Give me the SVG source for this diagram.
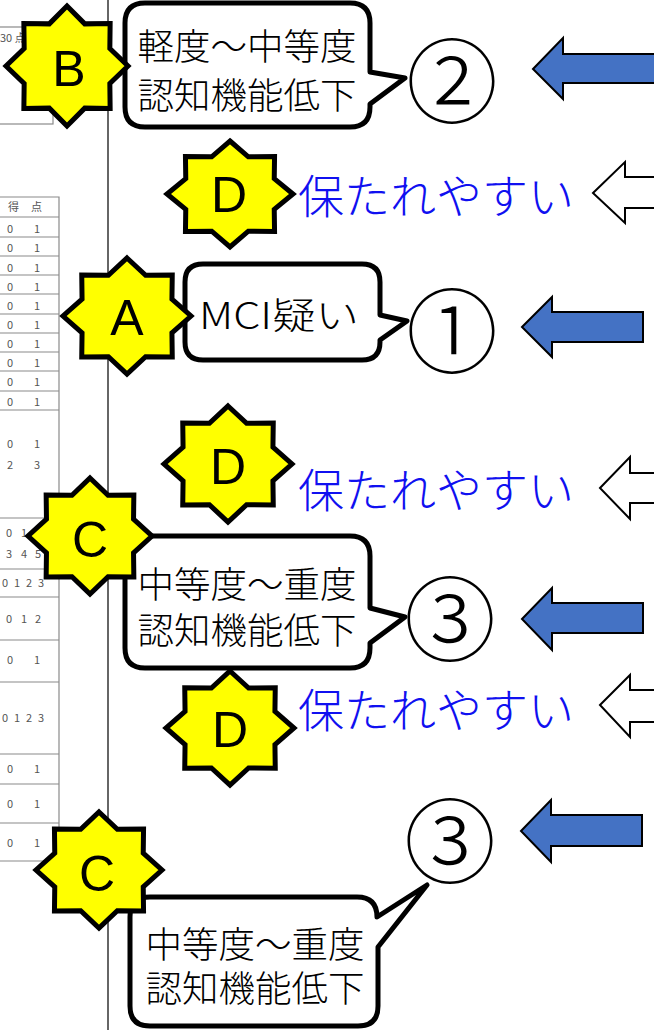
<svg xmlns="http://www.w3.org/2000/svg" xmlns:xlink="http://www.w3.org/1999/xlink" width="654" height="1030" viewBox="0 0 654 1030">
<style>
.bg{fill:#fff}
.tbl{fill:none;stroke:#8a8a8a;stroke-width:1.2}
.tt{font-family:"Noto Sans CJK JP","Noto Sans",sans-serif;font-size:11px;fill:#555}
.page{stroke:#333;stroke-width:1.5}
.star{fill:#ffff00;stroke:#000;stroke-width:5;stroke-linejoin:miter}
.letter{font-family:"Liberation Sans",Arial,sans-serif;font-size:50px;fill:#000;text-anchor:middle;dominant-baseline:central}
.callout{fill:#fff;stroke:#000;stroke-width:5;stroke-linejoin:round}
.ct{font-family:"Noto Sans CJK JP",sans-serif;font-weight:300;font-size:36.5px;fill:#000;text-anchor:middle;dominant-baseline:central}
.blue{font-family:"Noto Sans CJK JP",sans-serif;font-weight:300;font-size:46px;fill:#1010f0;dominant-baseline:central}
.num{font-family:"Noto Sans CJK JP",sans-serif;font-weight:300;font-size:92px;fill:#000;text-anchor:middle;dominant-baseline:central}
.barrow{fill:#4472c4;stroke:#000;stroke-width:2;stroke-linejoin:miter}
.warrow{fill:#fff;stroke:#000;stroke-width:2;stroke-linejoin:miter}
</style>
<defs>
<path id="starshape" vector-effect="non-scaling-stroke" d="M0,-1 L0.2908,-0.7022 L0.7071,-0.7071 L0.7022,-0.2908 L1,0 L0.7022,0.2908 L0.7071,0.7071 L0.2908,0.7022 L0,1 L-0.2908,0.7022 L-0.7071,0.7071 L-0.7022,0.2908 L-1,0 L-0.7022,-0.2908 L-0.7071,-0.7071 L-0.2908,-0.7022 Z"/>
</defs>
<rect class="bg" x="0" y="0" width="654" height="1030"/>

<g id="page">
<line class="page" x1="108" y1="0" x2="108" y2="1030"/>
<rect class="tbl" x="-2" y="27" width="55" height="97"/>
<text class="tt" x="0" y="42">30 点</text>
<path class="tbl" d="M-2,197 H59 V861 H-2 M-2,217 H59 M-2,237 H59 M-2,256 H59 M-2,275 H59 M-2,294 H59 M-2,314 H59 M-2,333 H59 M-2,352 H59 M-2,371 H59 M-2,391 H59 M-2,410 H59 M-2,518 H59 M-2,569 H59 M-2,597 H59 M-2,640 H59 M-2,682 H59 M-2,754 H59 M-2,784 H59 M-2,823 H59"/>
<g class="tt">
<text x="8" y="211">得</text><text x="31" y="211">点</text>
<text x="7" y="233">0</text><text x="34" y="233">1</text>
<text x="7" y="252">0</text><text x="34" y="252">1</text>
<text x="7" y="272">0</text><text x="34" y="272">1</text>
<text x="7" y="291">0</text><text x="34" y="291">1</text>
<text x="7" y="310">0</text><text x="34" y="310">1</text>
<text x="7" y="329">0</text><text x="34" y="329">1</text>
<text x="7" y="348">0</text><text x="34" y="348">1</text>
<text x="7" y="367">0</text><text x="34" y="367">1</text>
<text x="7" y="386">0</text><text x="34" y="386">1</text>
<text x="7" y="406">0</text><text x="34" y="406">1</text>
<text x="7" y="448">0</text><text x="34" y="448">1</text>
<text x="7" y="469">2</text><text x="34" y="469">3</text>
<text x="6" y="537">0</text><text x="21" y="537">1</text>
<text x="6" y="558">3</text><text x="21" y="558">4</text><text x="35" y="558">5</text>
<text x="2" y="587">0</text><text x="14" y="587">1</text><text x="26" y="587">2</text><text x="38" y="587">3</text>
<text x="6" y="623">0</text><text x="21" y="623">1</text><text x="35" y="623">2</text>
<text x="7" y="664">0</text><text x="34" y="664">1</text>
<text x="2" y="722">0</text><text x="14" y="722">1</text><text x="26" y="722">2</text><text x="38" y="722">3</text>
<text x="7" y="773">0</text><text x="34" y="773">1</text>
<text x="7" y="808">0</text><text x="34" y="808">1</text>
<text x="7" y="847">0</text><text x="34" y="847">1</text>
</g>
</g>

<g id="connectors">
<polygon class="barrow" points="533,69 563,38 563,54 660,54 660,83 563,83 563,99"/>
<polygon class="warrow" points="593,193 625,162 625,177 660,177 660,208 625,208 625,223"/>
<polygon class="barrow" points="522,327 552,297 552,312 643,312 643,342 552,342 552,357"/>
<polygon class="warrow" points="600,488 630,457 630,473 660,473 660,503 630,503 630,519"/>
<polygon class="barrow" points="522,619 552,588 552,603 643,603 643,633 552,633 552,650"/>
<polygon class="warrow" points="600,705 630,675 630,690 660,690 660,722 630,722 630,737"/>
<polygon class="barrow" points="521,831 551,800 551,815 642,815 642,846 551,846 551,862"/>
</g>

<g id="callout-B">
<path class="callout" d="M145,3 H350 Q370,3 370,23 V72 L405,78 L370,104 V107 Q370,127 350,127 H145 Q125,127 125,107 V23 Q125,3 145,3 Z"/>
<text class="ct" x="247" y="44">軽度～中等度</text>
<text class="ct" x="247" y="93">認知機能低下</text>
</g>
<g id="callout-A">
<path class="callout" d="M203,264 H362 Q380,264 380,282 V315 L407,321 L380,340 V342 Q380,360 362,360 H203 Q185,360 185,342 V282 Q185,264 203,264 Z"/>
<text class="ct" x="279" y="313" font-size="40" textLength="160" lengthAdjust="spacingAndGlyphs">MCI疑い</text>
</g>
<g id="callout-C1">
<path class="callout" d="M145,536 H350 Q370,536 370,556 V608 L405,617 L370,643 V648 Q370,668 350,668 H145 Q125,668 125,648 V556 Q125,536 145,536 Z"/>
<text class="ct" x="247" y="582">中等度～重度</text>
<text class="ct" x="247" y="628">認知機能低下</text>
</g>
<g id="callout-C2">
<path class="callout" d="M150,897 H357 Q377,897 377,917 L427,885 L378,947 V1006 Q378,1026 358,1026 H150 Q130,1026 130,1006 V917 Q130,897 150,897 Z"/>
<text class="ct" x="255" y="942">中等度～重度</text>
<text class="ct" x="255" y="986">認知機能低下</text>
</g>

<g id="star-B"><use xlink:href="#starshape" class="star" transform="translate(67,66) scale(61,60)"/><text class="letter" x="69" y="69">B</text></g>
<g id="star-D1"><use xlink:href="#starshape" class="star" transform="translate(230,194) scale(63,53)"/><text class="letter" x="229" y="195">D</text></g>
<g id="star-A"><use xlink:href="#starshape" class="star" transform="translate(127,316) scale(64,58)"/><text class="letter" x="127" y="318">A</text></g>
<g id="star-D2"><use xlink:href="#starshape" class="star" transform="translate(228,464) scale(64,58)"/><text class="letter" x="228" y="467">D</text></g>
<g id="star-C1"><use xlink:href="#starshape" class="star" transform="translate(90,536) scale(62,58)"/><text class="letter" x="90" y="540">C</text></g>
<g id="star-D3"><use xlink:href="#starshape" class="star" transform="translate(230,728) scale(64,57)"/><text class="letter" x="230" y="730">D</text></g>
<g id="star-C2"><use xlink:href="#starshape" class="star" transform="translate(99,870) scale(63,58)"/><text class="letter" x="97" y="874">C</text></g>

<g id="label-D1"><text class="blue" x="298" y="193">保たれやすい</text></g>
<g id="label-D2"><text class="blue" x="298" y="487">保たれやすい</text></g>
<g id="label-D3"><text class="blue" x="298" y="707">保たれやすい</text></g>

<g id="num-2"><text class="num" x="452" y="75">②</text></g>
<g id="num-1"><text class="num" x="452" y="325">①</text></g>
<g id="num-3a"><text class="num" x="450" y="613">③</text></g>
<g id="num-3b"><text class="num" x="450" y="835">③</text></g>
</svg>
